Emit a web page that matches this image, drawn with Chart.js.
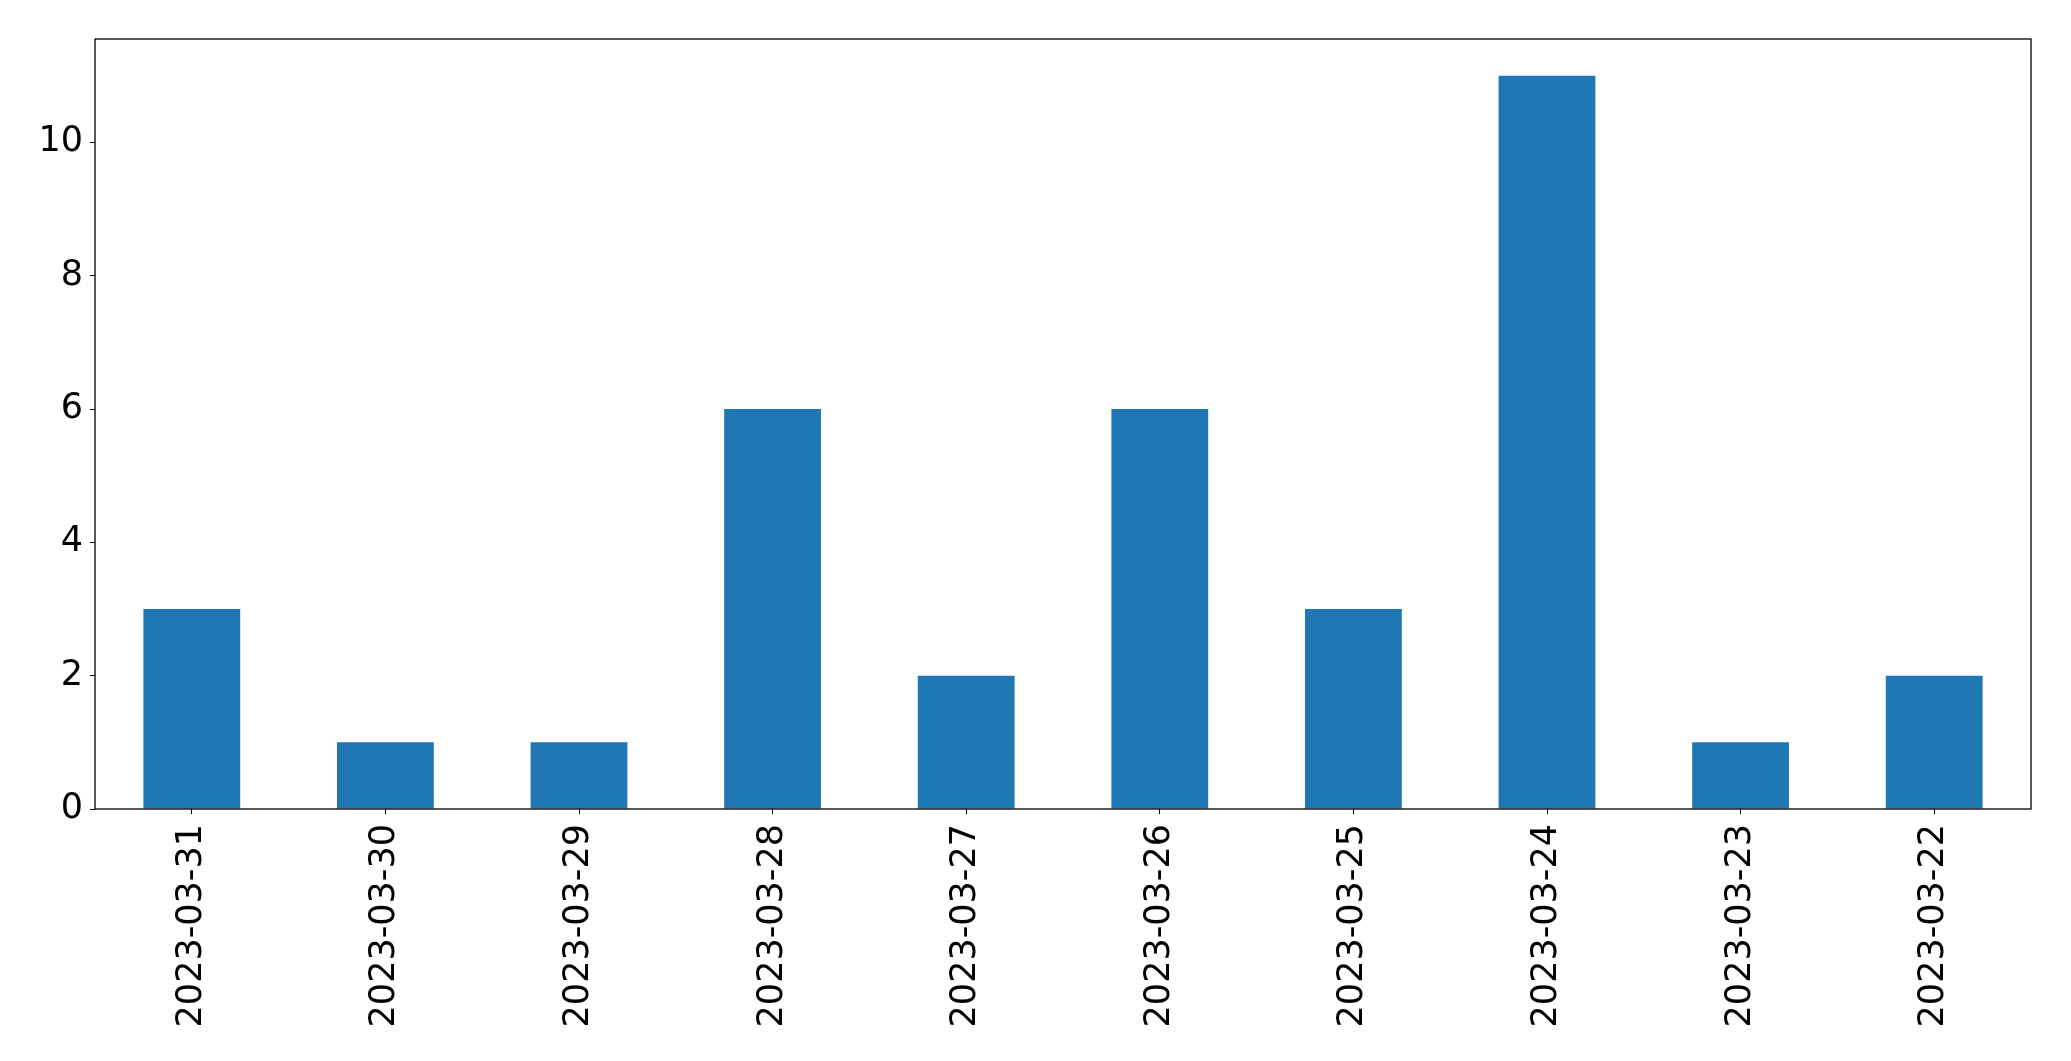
<!DOCTYPE html>
<html lang="en">
  <head>
    <meta charset="UTF-8" />
    <title>Counts per day</title>
    <script src="https://cdn.jsdelivr.net/npm/chart.js"></script>
    <style>
      html, body {
        margin: 0;
        padding: 0;
        background: #fff;
      }
      #wrap {
        width: 2071px;
        height: 1061px;
      }
    </style>
  </head>
  <body>
    <div id="wrap">
      <canvas id="barChart" width="2071" height="1061"></canvas>
    </div>
    <script>
      // data
      const dates = [
        '2023-03-31', '2023-03-30', '2023-03-29', '2023-03-28', '2023-03-27',
        '2023-03-26', '2023-03-25', '2023-03-24', '2023-03-23', '2023-03-22',
      ];
      const counts = [3, 1, 1, 6, 2, 6, 3, 11, 1, 2];
      const yTicks = [0, 2, 4, 6, 8, 10];

      // plot frame like matplotlib's spines
      const frame = {
        id: 'frame',
        afterDatasetsDraw(chart) {
          const a = chart.chartArea;
          const ctx = chart.ctx;
          ctx.save();
          ctx.strokeStyle = '#000';
          ctx.lineWidth = 1.3;
          ctx.strokeRect(a.left, a.top, a.right - a.left, a.bottom - a.top);
          ctx.restore();
        },
      };

      const font = { family: 'DejaVu Sans', size: 35 };

      new Chart(document.getElementById('barChart'), {
        type: 'bar',
        data: {
          labels: dates,
          datasets: [
            {
              data: counts,
              backgroundColor: '#1f77b4',
              barPercentage: 0.5,
              categoryPercentage: 1.0,
            },
          ],
        },
        options: {
          responsive: false,
          animation: false,
          layout: { padding: { top: 39, right: 40, left: 0, bottom: 0 } },
          plugins: { legend: { display: false }, tooltip: { enabled: false } },
          scales: {
            x: {
              offset: true,
              grid: {
                drawOnChartArea: false,
                tickLength: 5,
                color: '#000',
                offset: false,
              },
              border: { display: false },
              ticks: {
                color: '#000',
                font: font,
                minRotation: 90,
                maxRotation: 90,
                padding: 10,
                autoSkip: false,
              },
              afterFit(scale) {
                scale.height = 1061 - 809;
              },
            },
            y: {
              min: 0,
              max: 11.55,
              grid: { drawOnChartArea: false, tickLength: 5, color: '#000' },
              border: { display: false },
              ticks: { color: '#000', font: font, stepSize: 2, padding: 7 },
              afterBuildTicks(scale) {
                scale.ticks = yTicks.map((v) => ({ value: v }));
              },
              afterFit(scale) {
                scale.width = 95;
              },
            },
          },
        },
        plugins: [frame],
      });
    </script>
  </body>
</html>
